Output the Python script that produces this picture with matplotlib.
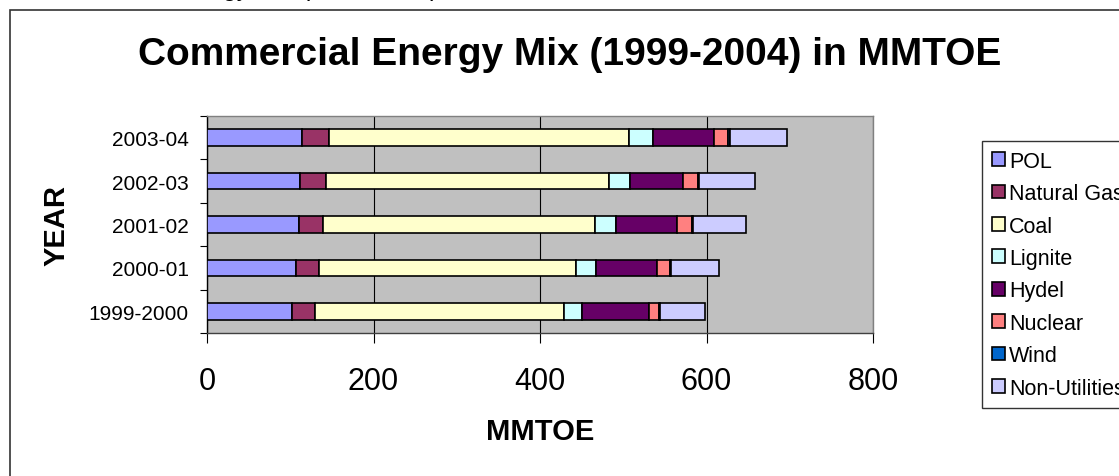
import numpy as np
import matplotlib
matplotlib.use("Agg")
import matplotlib.pyplot as plt
from matplotlib.patches import Rectangle

plt.rcParams['font.family'] = ['Liberation Sans', 'DejaVu Sans']

years = ["1999-2000", "2000-01", "2001-02", "2002-03", "2003-04"]
sources = ["POL", "Natural Gas", "Coal", "Lignite", "Hydel", "Nuclear", "Wind", "Non-Utilities"]
couleurs = ["#9999FF", "#993366", "#FFFFCC", "#CCFFFF", "#660066", "#FF8080", "#0066CC", "#CCCCFF"]

# valeurs (MMTOE), dans l'ordre des années
pol = [102.5, 107.3, 110.5, 111.7, 114.5]
gaz = [27.2, 27.6, 28.8, 30.8, 32.4]
charbon = [299.0, 308.6, 327.0, 339.8, 360.2]
lignite = [22.0, 23.5, 24.4, 26.0, 28.1]
hydel = [80.3, 74.0, 73.3, 63.7, 73.6]
nucleaire = [12.4, 15.6, 18.5, 17.5, 16.5]
eolien = [1.0, 1.0, 1.5, 1.7, 2.5]
non_util = [53.2, 57.2, 64.0, 66.8, 68.3]

series = [pol, gaz, charbon, lignite, hydel, nucleaire, eolien, non_util]

W, H = 1119, 477
fig = plt.figure(figsize=(W / 100, H / 100), dpi=100)

# cadre du graphique (coupé à droite et en bas)
fig.patches.append(Rectangle((10 / W, -0.1), 1.2, 1 - 11 / H + 0.1, transform=fig.transFigure,
                             fill=False, edgecolor="#333333", linewidth=1.2))

# légende du document coupée en haut de l'image (seuls les jambages dépassent)
fig.text(30 / W, 1 + 4 / H, "Commercial Energy Mix (1999-2004) in MMTOE", fontsize=18, va="baseline", ha="left")

ax = fig.add_axes([207 / W, 1 - 334 / H, (873 - 207) / W, (334 - 117) / H])
ax.set_facecolor("#C0C0C0")

y = np.arange(len(years))
gauche = np.zeros(len(years))
barres = []
for nom, vals, c in zip(sources, series, couleurs):
    b = ax.barh(y, vals, left=gauche, height=0.38, color=c, edgecolor="black", linewidth=1.2, label=nom, zorder=3)
    barres.append(b)
    gauche += np.array(vals)

ax.set_xlim(0, 800)
ax.set_ylim(-0.5, len(years) - 0.5)
ax.set_xticks([0, 200, 400, 600, 800])
ax.tick_params(axis="x", labelsize=22, length=7, width=0.8, direction="out", pad=17)
ax.set_yticks(y)
ax.set_yticklabels(years)
ax.set_yticks(np.arange(-0.5, len(years)), minor=True)
ax.tick_params(axis="y", which="major", length=0, labelsize=15, pad=13)
ax.tick_params(axis="y", which="minor", length=5, width=0.8, direction="out")
ax.grid(True, axis="x", color="black", linewidth=0.8, zorder=1)
ax.set_axisbelow(True)

ax.spines["left"].set_color("black")
ax.spines["bottom"].set_color("#404040")
ax.spines["top"].set_color("#808080")
ax.spines["right"].set_color("#808080")
for s in ax.spines.values():
    s.set_linewidth(1.0)

ax.set_xlabel("MMTOE", fontsize=21, fontweight="bold", va="center", ha="center")
ax.xaxis.set_label_coords(0.5, (334 - 432) / 217)
ax.set_ylabel("YEAR", fontsize=21, fontweight="bold", va="center", ha="center")
ax.yaxis.set_label_coords((57 - 207) / 666, 0.5)

fig.text(570 / W, 1 - 55 / H, "Commercial Energy Mix (1999-2004) in MMTOE", fontsize=28,
         fontweight="bold", ha="center", va="center")

leg = fig.legend(handles=barres, labels=sources, loc="upper left",
                 bbox_to_anchor=(982 / W, 1 - 142 / H), bbox_transform=fig.transFigure,
                 fontsize=15.5, frameon=True, fancybox=False, borderaxespad=0,
                 handlelength=0.6, handleheight=0.6, handletextpad=0.2,
                 labelspacing=0.53, borderpad=0.45)
leg.get_frame().set_edgecolor("black")
leg.get_frame().set_linewidth(1.0)

plt.savefig("out.png", dpi=100)
plt.close()
